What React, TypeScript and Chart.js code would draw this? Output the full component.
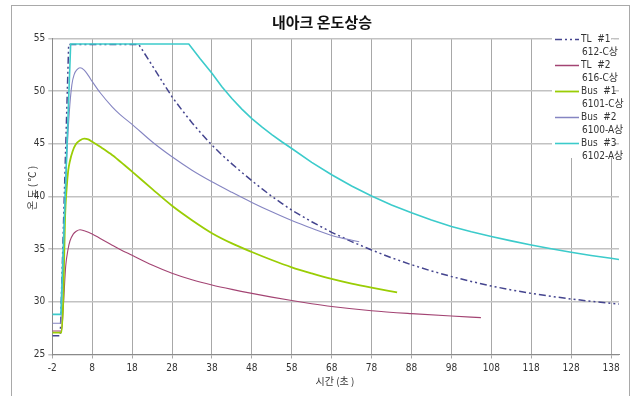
import React, { useEffect, useRef } from "react";
import { Chart, registerables } from "chart.js";

Chart.register(...registerables);

// ---- data ----
const chartTitle = "내아크 온도상승";
const xAxisTitle = "시간 (초 )";
const yAxisTitle = "온 도 ( ℃ )";

const xTicks = [-2, 8, 18, 28, 38, 48, 58, 68, 78, 88, 98, 108, 118, 128, 138];
const yTicks = [25, 30, 35, 40, 45, 50, 55];

const legendLine1 = ["TL  #1", "TL  #2", "Bus  #1", "Bus  #2", "Bus  #3"];
const legendLine2 = ["612-C상", "616-C상", "6101-C상", "6100-A상", "6102-A상"];

const tl1X = [-2, 0.0, 2.1, 19.7, 22.6, 25, 28, 30.5, 33, 35.5, 38, 40.5, 43, 45.5, 48, 50.5, 53, 55.5, 58, 63, 68, 73, 78, 83, 88, 93, 98, 103, 108, 113, 118, 123, 128, 133, 138, 140];
const tl1Y = [26.78, 26.78, 54.42, 54.42, 52.7, 51.25, 49.46, 48.2, 47.0, 45.9, 44.88, 43.95, 43.1, 42.28, 41.5, 40.74, 40.02, 39.35, 38.7, 37.6, 36.6, 35.72, 34.92, 34.18, 33.52, 32.93, 32.4, 31.93, 31.5, 31.13, 30.8, 30.52, 30.27, 30.05, 29.86, 29.8];

const tl2X = [-2, 0.3, 0.76, 1.36, 1.9, 2.44, 3.2, 4, 4.94, 6, 8, 10, 12.6, 15, 18, 23, 28, 33, 38, 43, 48, 53, 58, 63, 68, 78, 88, 98, 105.4];
const tl2Y = [27.23, 27.23, 29.5, 33.4, 34.9, 35.8, 36.4, 36.7, 36.85, 36.75, 36.45, 36.02, 35.47, 34.97, 34.42, 33.5, 32.72, 32.1, 31.6, 31.18, 30.8, 30.45, 30.12, 29.82, 29.56, 29.16, 28.88, 28.65, 28.5];

const bus1X = [-2, 0.3, 0.76, 1.2, 1.6, 2.0, 2.44, 3.1, 3.9, 5, 6, 7, 8, 10, 12.6, 15, 18, 23, 28, 33, 38, 43, 48, 53, 58, 63, 68, 73, 78, 84.4];
const bus1Y = [27.07, 27.07, 30.5, 38.0, 40.8, 42.5, 43.4, 44.3, 44.95, 45.35, 45.5, 45.43, 45.2, 44.72, 44.05, 43.32, 42.36, 40.72, 39.12, 37.75, 36.52, 35.55, 34.73, 33.97, 33.28, 32.7, 32.17, 31.72, 31.34, 30.9];

const bus2X = [-2, 0.1, 0.6, 1.1, 1.6, 2.26, 2.9, 3.5, 4.2, 4.94, 6, 7, 8, 10, 13, 15, 18, 23, 28, 33, 38, 43, 48, 53, 58, 63, 68, 74.9];
const bus2Y = [27.96, 27.96, 33, 38.5, 43.5, 48.0, 50.6, 51.6, 52.05, 52.22, 52.0, 51.5, 50.92, 49.85, 48.52, 47.78, 46.85, 45.2, 43.77, 42.5, 41.4, 40.4, 39.44, 38.55, 37.72, 36.98, 36.3, 35.7];

const bus3X = [-2, 0.15, 2.6, 32.2, 35, 38, 40.5, 43, 45.5, 48, 50.5, 53, 55.5, 58, 63, 68, 73, 78, 83, 88, 93, 98, 103, 108, 113, 118, 123, 128, 133, 138, 140];
const bus3Y = [28.81, 28.81, 54.48, 54.48, 53.1, 51.7, 50.42, 49.3, 48.3, 47.4, 46.6, 45.88, 45.2, 44.56, 43.24, 42.06, 41.0, 40.05, 39.2, 38.45, 37.77, 37.15, 36.65, 36.2, 35.79, 35.4, 35.04, 34.7, 34.4, 34.13, 34.02];

const seriesColors = ["#45458f", "#a34473", "#9acd05", "#8585c2", "#3ccbcb"];

const zip = (xs: number[], ys: number[]) => xs.map((x, i) => ({ x, y: ys[i] }));

const tickFont = "'Liberation Sans Narrow', 'DejaVu Sans Condensed', 'Noto Sans CJK KR', sans-serif";

const decorPlugin = {
  id: "decor",
  beforeDraw(chart: any) {
    const ctx = chart.ctx;
    ctx.save();
    ctx.fillStyle = "#ffffff";
    ctx.fillRect(0, 0, chart.width, chart.height);
    ctx.restore();
  },
  afterDraw(chart: any) {
    const ctx = chart.ctx;
    ctx.save();
    // frame
    ctx.strokeStyle = "#a9a9a9";
    ctx.lineWidth = 1;
    ctx.strokeRect(11.5, 5.5, 618, 400);
    // title
    ctx.fillStyle = "#111111";
    ctx.font = "bold 15px 'Noto Sans CJK KR', sans-serif";
    ctx.textAlign = "center";
    ctx.textBaseline = "middle";
    ctx.fillText(chartTitle, 322, 22);
    // axis titles
    ctx.font = "10px 'Noto Sans CJK KR', sans-serif";
    ctx.fillStyle = "#333333";
    ctx.fillText(xAxisTitle, 335, 381);
    ctx.save();
    ctx.translate(32, 188);
    ctx.rotate(-Math.PI / 2);
    ctx.fillText(yAxisTitle, 0, 0);
    ctx.restore();
    // legend background
    ctx.fillStyle = "#ffffff";
    ctx.fillRect(552, 31, 59, 127);
    ctx.fillRect(610.5, 39.5, 3, 118);
    const ds = chart.data.datasets;
    ds.forEach((d: any, i: number) => {
      const ly = 39.5 + i * 26;
      ctx.beginPath();
      ctx.strokeStyle = d.borderColor;
      ctx.lineWidth = Math.max(1.5, d.borderWidth);
      ctx.setLineDash(d.borderDash || []);
      ctx.moveTo(555, ly);
      ctx.lineTo(579, ly);
      ctx.stroke();
      ctx.setLineDash([]);
      ctx.fillStyle = "#333333";
      ctx.font = "10px " + tickFont;
      ctx.textAlign = "left";
      ctx.textBaseline = "middle";
      ctx.fillText(legendLine1[i], 581, ly);
      ctx.fillText(legendLine2[i], 582, ly + 13);
    });
    ctx.restore();
  },
};

export default function App() {
  const ref = useRef<HTMLCanvasElement | null>(null);
  useEffect(() => {
    if (!ref.current) return;
    const mk = (i: number, xs: number[], ys: number[], width: number, smooth: boolean, dash?: number[]) => ({
      label: legendLine1[i] + " " + legendLine2[i],
      data: zip(xs, ys),
      borderColor: seriesColors[i],
      backgroundColor: seriesColors[i],
      borderWidth: width,
      borderDash: dash || [],
      pointRadius: 0,
      fill: false,
      tension: smooth ? 0.4 : 0,
      cubicInterpolationMode: smooth ? ("monotone" as const) : ("default" as const),
      order: 5 - i,
    });
    const chart = new Chart(ref.current, {
      type: "line",
      data: {
        datasets: [
          mk(0, tl1X, tl1Y, 1.5, false, [7, 3, 2, 3, 2, 3]),
          mk(1, tl2X, tl2Y, 1.1, true),
          mk(2, bus1X, bus1Y, 1.8, true),
          mk(3, bus2X, bus2Y, 1.1, true),
          mk(4, bus3X, bus3Y, 1.6, false),
        ],
      },
      options: {
        animation: false,
        responsive: false,
        devicePixelRatio: 1,
        layout: { padding: { left: 0, right: 17, top: 38.5, bottom: 0 } },
        plugins: { legend: { display: false }, tooltip: { enabled: false }, title: { display: false } },
        scales: {
          x: {
            type: "linear",
            min: -2,
            max: 140,
            afterBuildTicks: (scale: any) => {
              scale.ticks = xTicks.map((v) => ({ value: v }));
            },
            afterFit: (scale: any) => {
              scale.height = 41.5;
            },
            ticks: {
              autoSkip: false,
              maxRotation: 0,
              padding: 4,
              color: "#333333",
              font: { family: tickFont, size: 10 },
              callback: (v: any) => String(v),
            },
            grid: { color: "#a8a8a8", lineWidth: 1, tickLength: 4 },
            border: { color: "#8a8a8a", width: 1 },
          },
          y: {
            type: "linear",
            min: 25,
            max: 55,
            afterBuildTicks: (scale: any) => {
              scale.ticks = yTicks.map((v) => ({ value: v }));
            },
            afterFit: (scale: any) => {
              scale.width = 52.3;
            },
            ticks: {
              padding: 3,
              color: "#333333",
              font: { family: tickFont, size: 10 },
            },
            grid: { color: "#c2c2c2", lineWidth: 1.5, tickLength: 4 },
            border: { color: "#8a8a8a", width: 1 },
          },
        },
      },
      plugins: [decorPlugin],
    });
    return () => chart.destroy();
  }, []);
  return (
    <div style={{ position: "absolute", left: 0, top: 0, width: 636, height: 396 }}>
      <canvas ref={ref} width={636} height={396} style={{ width: 636, height: 396, display: "block" }} />
    </div>
  );
}
